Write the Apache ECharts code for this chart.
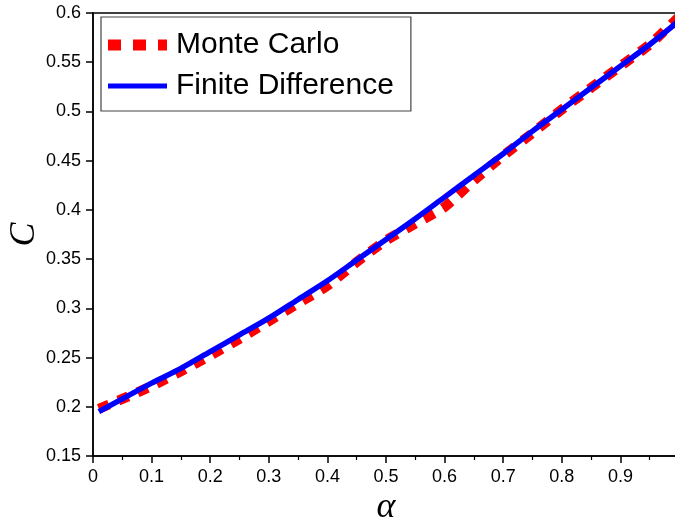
<!DOCTYPE html>
<html>
<head>
<meta charset="utf-8">
<script src="https://cdn.jsdelivr.net/npm/echarts@6/dist/echarts.min.js"></script>
<style>
html,body{margin:0;padding:0;background:#fff;}
#chart{width:675px;height:523px;}
</style>
</head>
<body>
<div id="chart"></div>
<script>
var alphaValues = [0.01, 0.05, 0.1, 0.15, 0.2, 0.25, 0.3, 0.35, 0.4, 0.45, 0.5, 0.55, 0.6, 0.65, 0.7, 0.75, 0.8, 0.85, 0.9, 0.95, 1.0];
var monteCarlo = [0.198, 0.208, 0.221, 0.236, 0.252, 0.269, 0.287, 0.305, 0.323, 0.347, 0.369, 0.386, 0.403, 0.430, 0.455, 0.478, 0.502, 0.524, 0.546, 0.568, 0.596];
var finiteDifference = [0.195, 0.208, 0.224, 0.239, 0.256, 0.273, 0.290, 0.309, 0.328, 0.349, 0.370, 0.391, 0.413, 0.435, 0.457, 0.480, 0.502, 0.524, 0.546, 0.568, 0.592];
var xTicks = [0, 0.1, 0.2, 0.3, 0.4, 0.5, 0.6, 0.7, 0.8, 0.9];

function pairs(xs, ys) { return xs.map(function (x, i) { return [x, ys[i]]; }); }

var chart = echarts.init(document.getElementById('chart'), null, { renderer: 'canvas' });
chart.setOption({
  animation: false,
  backgroundColor: '#fff',
  grid: {
    left: 93, top: 13, width: 586, height: 443,
    outerBoundsMode: 'none', containLabel: false,
    show: true, borderColor: '#000', borderWidth: 1.5, backgroundColor: 'transparent'
  },
  legend: {
    left: 101, top: 17, orient: 'vertical',
    backgroundColor: '#fff', borderColor: '#444', borderWidth: 1.2, borderRadius: 0,
    padding: [13, 17, 10, 7],
    itemWidth: 59, itemHeight: 11, itemGap: 11,
    textStyle: { fontFamily: 'Liberation Sans, Arial, sans-serif', fontSize: 30, color: '#000', lineHeight: 30, padding: [0, 0, 0, 4] },
    data: [
      { name: 'Monte Carlo', icon: 'path://M0,0h13v11h-13z M25,0h13v11h-13z M50,0h9v11h-9z' },
      { name: 'Finite Difference', icon: 'path://M0,0h0.05v0.05h-0.05z M0,3h59v5h-59z M58.95,10.95h0.05v0.05h-0.05z' }
    ]
  },
  xAxis: {
    type: 'value', min: 0, max: 1.0, interval: 0.1,
    name: 'α', nameLocation: 'middle', nameGap: 34, nameMoveOverlap: false,
    nameTextStyle: { fontFamily: 'Liberation Serif, Times New Roman, serif', fontStyle: 'italic', fontSize: 36, color: '#000' },
    axisLine: { show: true, lineStyle: { color: '#000', width: 1.5 } },
    axisTick: { show: true, inside: false, length: 7, lineStyle: { color: '#000', width: 1.5 } },
    minorTick: { show: true, splitNumber: 2, length: 4, lineStyle: { color: '#000', width: 1.2 } },
    splitLine: { show: false },
    axisLabel: {
      margin: 12, color: '#000', fontFamily: 'Liberation Sans, Arial, sans-serif', fontSize: 18,
      formatter: function (v) { return xTicks.indexOf(Math.round(v * 10) / 10) >= 0 ? String(Math.round(v * 10) / 10) : ''; }
    }
  },
  yAxis: {
    type: 'value', min: 0.15, max: 0.6, interval: 0.05,
    name: 'C', nameLocation: 'middle', nameGap: 50, nameMoveOverlap: false,
    nameTextStyle: { fontFamily: 'Liberation Serif, Times New Roman, serif', fontStyle: 'italic', fontSize: 36, color: '#000' },
    axisLine: { show: true, lineStyle: { color: '#000', width: 1.5 } },
    axisTick: { show: true, inside: false, length: 7, lineStyle: { color: '#000', width: 1.5 } },
    splitLine: { show: false },
    axisLabel: {
      margin: 12, color: '#000', fontFamily: 'Liberation Sans, Arial, sans-serif', fontSize: 18,
      formatter: function (v) { return String(Math.round(v * 100) / 100); }
    }
  },
  series: [
    {
      name: 'Monte Carlo', type: 'line', data: pairs(alphaValues, monteCarlo),
      showSymbol: false, symbol: 'none', smooth: 0.2, z: 2,
      itemStyle: { color: '#ff0000' },
      lineStyle: { color: '#ff0000', width: 10, type: [11, 10], cap: 'butt' }
    },
    {
      name: 'Finite Difference', type: 'line', data: pairs(alphaValues, finiteDifference),
      showSymbol: false, symbol: 'none', smooth: 0.3, z: 3,
      itemStyle: { color: '#0000ff' },
      lineStyle: { color: '#0000ff', width: 5.5 }
    }
  ]
});
</script>
</body>
</html>
